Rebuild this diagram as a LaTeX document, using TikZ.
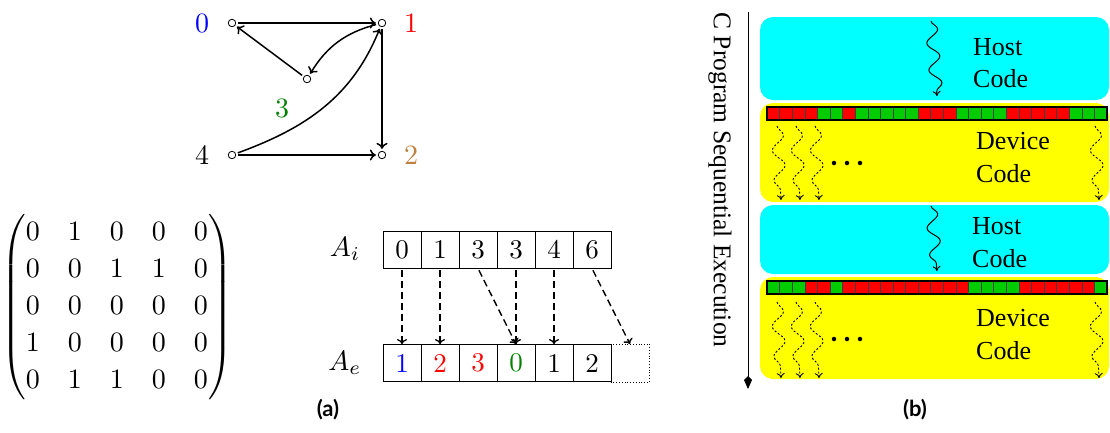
\documentclass[tikz,border=0pt]{standalone}
\usepackage{graphicx}
\usepackage{amsmath}
\usepackage{fontspec}
\newfontfamily\serifb{Liberation Serif}
\newfontfamily\capf{Lato}
\usetikzlibrary{arrows.meta,decorations.pathmorphing}
\definecolor{barg}{RGB}{0,204,0}
\definecolor{barr}{RGB}{255,0,0}
\definecolor{hostc}{RGB}{0,255,255}
\definecolor{devc}{RGB}{255,255,0}
\definecolor{lblblue}{RGB}{0,0,255}
\definecolor{lblred}{RGB}{255,0,0}
\definecolor{lblgreen}{RGB}{0,128,0}
\definecolor{lblbrown}{rgb}{0.75,0.5,0.25}
\newcommand{\bigsc}[1]{\scalebox{2.8}{#1}}
\begin{document}
\begin{tikzpicture}[x=1pt,y=1pt,
  v/.style={circle,draw,inner sep=0pt,minimum size=7.5pt,line width=0.8pt},
  lab/.style={inner sep=0pt},
  e/.style={-{To[length=6pt,width=11pt]},line width=1.5pt,shorten <=2pt,shorten >=2pt},
  cell/.style={draw,line width=0.9pt,minimum width=38pt,minimum height=37pt,inner sep=0pt},
  da/.style={-{To[length=5pt,width=10pt]},line width=1.4pt,dash pattern=on 7pt off 4pt,shorten <=2pt},
  blk/.style={inner sep=0pt,minimum width=349pt,rounded corners=13pt},
  bt/.style={font=\serifb\fontsize{26}{32.5}\selectfont,align=left,inner sep=0pt,anchor=west},
  hs/.style={decorate,decoration={snake,amplitude=6pt,segment length=27pt,post length=4pt},-{To[length=5pt,width=8pt]},line width=1pt},
  ds/.style={decorate,decoration={snake,amplitude=6pt,segment length=30pt,post length=4pt},-{To[length=5pt,width=8pt]},line width=0.9pt,dash pattern=on 2pt off 2pt},
  dotn/.style={circle,fill,inner sep=0pt,minimum size=4.5pt},
  captext/.style={font=\capf\bfseries\fontsize{22}{24}\selectfont}
]
\useasboundingbox (0,0) rectangle (1110,-432);

% ---------- panel (a): graph ----------
\node[v] (n0) at (232,-23) {};
\node[v] (n1) at (382,-23) {};
\node[v] (n3) at (307,-79) {};
\node[v] (n4) at (232,-155) {};
\node[v] (n2) at (382,-155) {};
\node[lab,text=lblblue] (l0) at (202,-23) {\bigsc{0}};
\node[lab,text=lblred] (l1) at (411,-23) {\bigsc{1}};
\node[lab,text=lblgreen] (l3) at (282,-108) {\bigsc{3}};
\node[lab] (l4) at (202,-155) {\bigsc{4}};
\node[lab,text=lblbrown] (l2) at (411,-155) {\bigsc{2}};
\draw[e] (n0) -- (n1);
\draw[e] (n1) -- (n2);
\draw[e] (n4) -- (n2);
\draw[e] (n3) -- (n0);
\draw[e] (n1) to[bend right=22] (n3);
\draw[e] (n4) to[out=20,in=-112] (n1);

% ---------- matrix ----------
\node[inner sep=0pt] (M) at (117,-307) {\bigsc{$\renewcommand\arraystretch{1.1}\begin{pmatrix}0&1&0&0&0\\0&0&1&1&0\\0&0&0&0&0\\1&0&0&0&0\\0&1&1&0&0\end{pmatrix}$}};

% ---------- arrays ----------
\node[inner sep=0pt] (Ai) at (345,-249) {\bigsc{$A_i$}};
\node[inner sep=0pt] (Ae) at (345,-363) {\bigsc{$A_e$}};
\foreach \v [count=\k from 0] in {0,1,3,3,4,6}
  \node[cell] (i\k) at ({383+38*(\k+0.5)},-249.5) {\scalebox{2.7}{\v}};
\foreach \v/\c [count=\k from 0] in {1/lblblue,2/lblred,3/lblred,0/lblgreen,1/black,2/black}
  \node[cell,text=\c] (e\k) at ({383+38*(\k+0.5)},-363) {\scalebox{2.7}{\v}};
\node[cell,draw=none] (e6) at ({383+38*6.5},-363) {};
\draw[line width=0.8pt,dotted] (e6.north west) -- (e6.north east) -- (e6.south east) -- (e6.south west);
\draw[da] (i0.south) -- (e0.north);
\draw[da] (i1.south) -- (e1.north);
\draw[da] (i2.south) -- (e3.north);
\draw[da] (i3.south) -- (e3.north);
\draw[da] (i4.south) -- (e4.north);
\draw[da] (i5.south) -- (e6.north);

\node[captext] (capa) at (328,-410) {(a)};

% ---------- panel (b) ----------
\node[blk,fill=hostc,minimum height=83pt] (hc1) at (934.5,-58.5) {};
\node[blk,fill=devc,minimum height=99pt] (dc1) at (934.5,-152.5) {};
\node[blk,fill=hostc,minimum height=69pt] (hc2) at (934.5,-239.5) {};
\node[blk,fill=devc,minimum height=102pt] (dc2) at (934.5,-328) {};

\foreach \c [count=\i from 0] in {barr,barr,barr,barr,barg,barg,barr,barg,barg,barg,barg,barg,barr,barr,barr,barg,barg,barg,barg,barr,barr,barr,barr,barr,barg,barg,barg}
  \draw[fill=\c,draw=black!75,line width=0.5pt] ({767+12.593*\i},-107) rectangle ++(12.593,-13);
\draw[line width=1.2pt] (767,-107) rectangle (1107,-120);
\foreach \c [count=\i from 0] in {barg,barg,barg,barr,barr,barg,barr,barr,barr,barr,barr,barr,barr,barr,barr,barr,barg,barg,barg,barg,barr,barr,barr,barr,barr,barr,barg}
  \draw[fill=\c,draw=black!75,line width=0.5pt] ({767+12.593*\i},-281) rectangle ++(12.593,-13);
\draw[line width=1.2pt] (767,-281) rectangle (1107,-294);

\node[bt] (ht1) at (973,-63) {Host\\Code};
\node[bt] (dt1) at (976,-157.5) {Device\\Code};
\node[bt] (ht2) at (972,-242.5) {Host\\Code};
\node[bt] (dt2) at (976,-334.5) {Device\\Code};

\coordinate (h1s) at (931,-21); \coordinate (h1e) at (937,-96);
\draw[hs] (h1s) -- (h1e);
\coordinate (h2s) at (931,-206); \coordinate (h2e) at (937,-271);
\draw[hs] (h2s) -- (h2e);
\foreach \x [count=\j] in {777,796,815,1095}{
  \coordinate (da\j) at (\x,-126); \coordinate (db\j) at (\x+4,-200);
  \draw[ds] (da\j) -- (db\j);
  \coordinate (dc\j) at (\x,-302); \coordinate (dd\j) at (\x+4,-378);
  \draw[ds] (dc\j) -- (dd\j);
}
\foreach \x [count=\j] in {834,847,860}{
  \node[dotn] (p\j) at (\x,-163) {};
  \node[dotn] (q\j) at (\x,-339) {};
}

\coordinate (ts) at (748,-12); \coordinate (te) at (748,-389);
\draw[line width=0.9pt,-{Kite[length=13pt,width=8pt,inset=4pt]}] (ts) -- (te);
\node[font=\serifb\fontsize{25.5}{30}\selectfont,rotate=-90,inner sep=0pt] (prog) at (720,-180) {C Program Sequential Execution};

\node[captext] (capb) at (915,-410) {(b)};
\end{tikzpicture}
\end{document}
